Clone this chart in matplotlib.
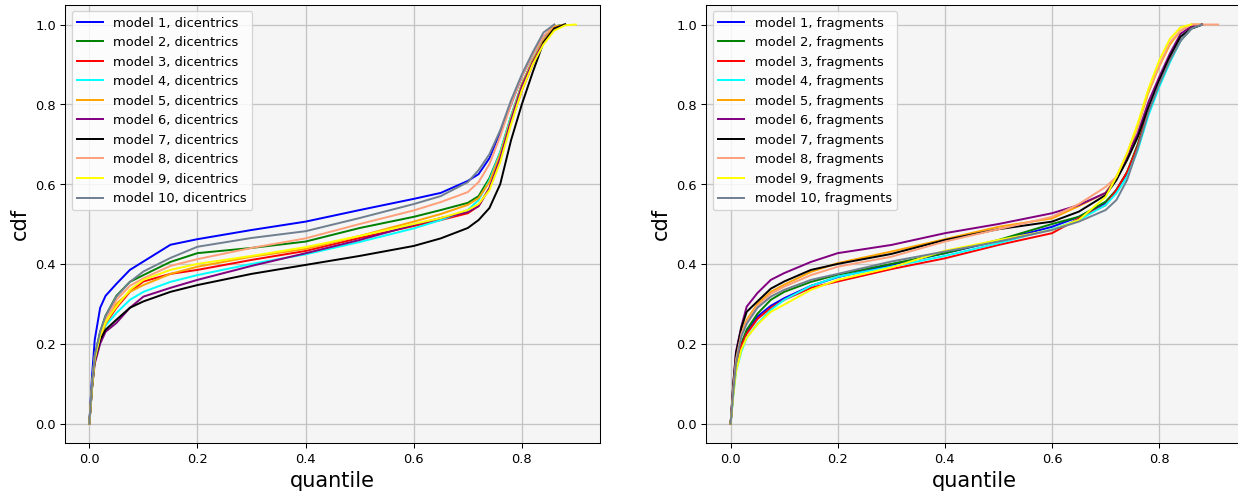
import numpy as np
import matplotlib
matplotlib.use('agg')
import matplotlib.pyplot as plt

nan = np.nan

labels = ['model %d' % i for i in range(1, 11)]
colors = ['blue', 'green', 'red', 'cyan', 'orange', 'purple', 'black',
          'lightsalmon', 'yellow', 'slategray']

# quantile knots
q_dic = [0, 0.005, 0.01, 0.02, 0.03, 0.05, 0.075, 0.1, 0.15, 0.2, 0.3, 0.4, 0.5,
         0.6, 0.65, 0.7, 0.72, 0.74, 0.76, 0.78, 0.8, 0.82, 0.84, 0.86, 0.88, 0.9]

cdf_dic_1 = [0, 0.12, 0.21, 0.29, 0.32, 0.35, 0.385, 0.406, 0.448, 0.462, 0.485, 0.506, 0.535,
             0.563, 0.578, 0.608, 0.625, 0.665, 0.73, 0.80, 0.87, 0.925, 0.97, 0.995, 1.0, nan]
cdf_dic_2 = [0, 0.1, 0.17, 0.23, 0.27, 0.32, 0.355, 0.372, 0.405, 0.427, 0.44, 0.456, 0.49,
             0.518, 0.535, 0.553, 0.57, 0.615, 0.68, 0.77, 0.85, 0.91, 0.96, 0.995, 1.0, nan]
cdf_dic_3 = [0, 0.09, 0.16, 0.21, 0.25, 0.29, 0.33, 0.356, 0.375, 0.385, 0.41, 0.4325, 0.465,
             0.495, 0.51, 0.527, 0.545, 0.59, 0.665, 0.755, 0.835, 0.9, 0.955, 0.99, 1.0, nan]
cdf_dic_4 = [0, 0.09, 0.16, 0.21, 0.245, 0.277, 0.31, 0.33, 0.355, 0.372, 0.40, 0.424, 0.455,
             0.489, 0.51, 0.535, 0.56, 0.61, 0.68, 0.77, 0.85, 0.91, 0.96, 0.995, 1.0, nan]
cdf_dic_5 = [0, 0.09, 0.16, 0.21, 0.25, 0.30, 0.33, 0.347, 0.375, 0.393, 0.418, 0.4375, 0.47,
             0.506, 0.525, 0.548, 0.565, 0.605, 0.675, 0.765, 0.85, 0.91, 0.96, 0.995, 1.0, nan]
cdf_dic_6 = [0, 0.09, 0.15, 0.2, 0.23, 0.252, 0.29, 0.318, 0.34, 0.36, 0.395, 0.4267, 0.46,
             0.4975, 0.515, 0.53, 0.545, 0.59, 0.665, 0.76, 0.845, 0.905, 0.955, 0.99, 1.0, nan]
cdf_dic_7 = [0, 0.09, 0.16, 0.21, 0.235, 0.26, 0.29, 0.306, 0.33, 0.347, 0.375, 0.3975, 0.42,
             0.445, 0.464, 0.49, 0.51, 0.54, 0.60, 0.71, 0.80, 0.88, 0.955, 0.99, 1.0, nan]
cdf_dic_8 = [0, 0.1, 0.17, 0.22, 0.26, 0.31, 0.345, 0.364, 0.395, 0.412, 0.44, 0.464, 0.5,
             0.534, 0.555, 0.58, 0.605, 0.65, 0.72, 0.80, 0.87, 0.925, 0.97, 1.0, nan, nan]
cdf_dic_9 = [0, 0.09, 0.16, 0.22, 0.255, 0.293, 0.335, 0.36, 0.385, 0.40, 0.42, 0.442, 0.47,
             0.50, 0.515, 0.535, 0.55, 0.585, 0.655, 0.75, 0.835, 0.9, 0.95, 0.985, 0.998, 1.0]
cdf_dic_10 = [0, 0.1, 0.17, 0.23, 0.27, 0.318, 0.355, 0.381, 0.415, 0.443, 0.465, 0.482, 0.515,
              0.55, 0.57, 0.605, 0.635, 0.675, 0.735, 0.81, 0.875, 0.93, 0.98, 1.0, nan, nan]

# quantile knots
q_frag = [0, 0.005, 0.01, 0.02, 0.03, 0.05, 0.075, 0.1, 0.15, 0.2, 0.3, 0.4, 0.5,
          0.6, 0.65, 0.7, 0.72, 0.74, 0.76, 0.78, 0.8, 0.82, 0.84, 0.86, 0.88, 0.91]

cdf_frag_1 = [0, 0.08, 0.14, 0.2, 0.23, 0.268, 0.295, 0.314, 0.345, 0.367, 0.3975, 0.427, 0.458,
              0.493, 0.518, 0.552, 0.585, 0.627, 0.693, 0.78, 0.85, 0.91, 0.96, 0.99, 1.0, nan]
cdf_frag_2 = [0, 0.08, 0.14, 0.2, 0.235, 0.275, 0.31, 0.33, 0.355, 0.373, 0.40, 0.427, 0.46,
              0.50, 0.518, 0.556, 0.585, 0.63, 0.70, 0.785, 0.855, 0.915, 0.96, 0.99, 1.0, nan]
cdf_frag_3 = [0, 0.08, 0.14, 0.195, 0.225, 0.262, 0.29, 0.31, 0.34, 0.356, 0.387, 0.414, 0.4475,
              0.477, 0.514, 0.5475, 0.585, 0.63, 0.695, 0.785, 0.855, 0.91, 0.96, 0.99, 1.0, nan]
cdf_frag_4 = [0, 0.07, 0.13, 0.18, 0.215, 0.25, 0.285, 0.31, 0.345, 0.368, 0.393, 0.42, 0.452,
              0.487, 0.51, 0.5475, 0.577, 0.618, 0.685, 0.7725, 0.843, 0.905, 0.96, 0.99, 1.0, nan]
cdf_frag_5 = [0, 0.09, 0.16, 0.23, 0.26, 0.30, 0.33, 0.348, 0.38, 0.402, 0.431, 0.462, 0.493,
              0.514, 0.545, 0.578, 0.618, 0.672, 0.745, 0.83, 0.895, 0.95, 0.985, 1.0, 1.0, nan]
cdf_frag_6 = [0, 0.1, 0.18, 0.243, 0.293, 0.327, 0.36, 0.377, 0.405, 0.427, 0.4475, 0.477, 0.50,
              0.527, 0.5475, 0.578, 0.612, 0.67, 0.727, 0.806, 0.868, 0.927, 0.977, 0.995, 1.0, nan]
cdf_frag_7 = [0, 0.1, 0.175, 0.24, 0.28, 0.306, 0.338, 0.356, 0.385, 0.40, 0.425, 0.46, 0.487,
              0.506, 0.531, 0.5725, 0.61, 0.66, 0.718, 0.793, 0.86, 0.92, 0.97, 0.99, 1.0, nan]
cdf_frag_8 = [0, 0.09, 0.16, 0.225, 0.255, 0.295, 0.325, 0.343, 0.372, 0.393, 0.418, 0.456, 0.487,
              0.518, 0.55, 0.593, 0.618, 0.677, 0.748, 0.834, 0.897, 0.955, 0.985, 1.0, 1.0, 1.0]
cdf_frag_9 = [0, 0.07, 0.13, 0.185, 0.215, 0.248, 0.28, 0.298, 0.335, 0.36, 0.391, 0.433, 0.46,
              0.485, 0.51, 0.568, 0.618, 0.677, 0.752, 0.839, 0.91, 0.964, 0.993, 1.0, nan, nan]
cdf_frag_10 = [0, 0.08, 0.15, 0.218, 0.25, 0.29, 0.318, 0.335, 0.36, 0.375, 0.406, 0.431, 0.456,
               0.485, 0.506, 0.535, 0.56, 0.61, 0.69, 0.78, 0.85, 0.91, 0.96, 0.99, 1.0, nan]

cdf_dic = [cdf_dic_1, cdf_dic_2, cdf_dic_3, cdf_dic_4, cdf_dic_5,
           cdf_dic_6, cdf_dic_7, cdf_dic_8, cdf_dic_9, cdf_dic_10]
cdf_frag = [cdf_frag_1, cdf_frag_2, cdf_frag_3, cdf_frag_4, cdf_frag_5,
            cdf_frag_6, cdf_frag_7, cdf_frag_8, cdf_frag_9, cdf_frag_10]


dpi = 94
fig = plt.figure(figsize=(1238.4 / dpi, 492.4 / dpi), dpi=dpi)
ax1 = fig.add_axes([0.0525, 0.0986, 0.4322, 0.8913])
ax2 = fig.add_axes([0.5703, 0.0986, 0.4330, 0.8913])

for ax, q, cdfs, kind in [(ax1, q_dic, cdf_dic, 'dicentrics'),
                          (ax2, q_frag, cdf_frag, 'fragments')]:
    ax.set_facecolor('whitesmoke')
    ax.grid(True, color='#c4c4c4', linewidth=1.0)
    ax.set_axisbelow(True)
    for i in range(10):
        ax.plot(q, np.array(cdfs[i], dtype=float), color=colors[i],
                label=labels[i] + ', ' + kind)
    ax.set_xlabel('quantile', fontsize=16)
    ax.set_ylabel('cdf', fontsize=16)
    ax.set_yticks(np.arange(0, 1.01, 0.2))
    ax.set_xticks(np.arange(0, 0.81, 0.2))
    ax.legend(loc='upper left', fontsize=10)

plt.savefig('out.png', dpi=dpi)
